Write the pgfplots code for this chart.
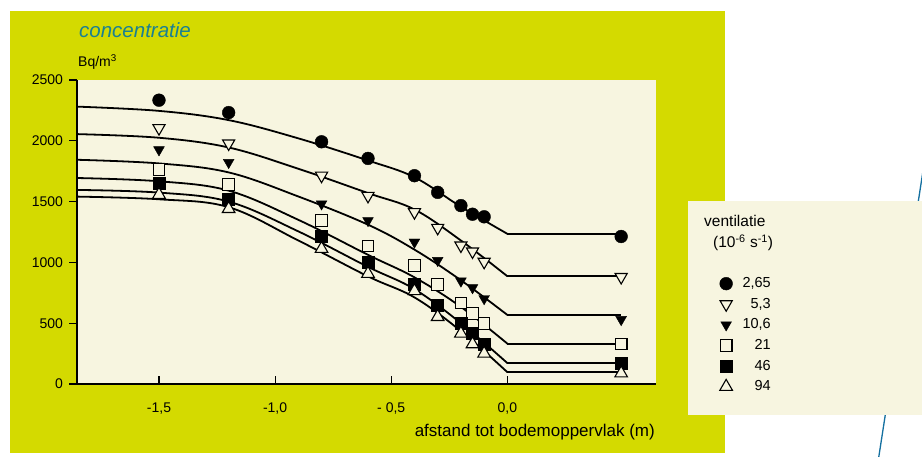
\documentclass[border=0pt]{standalone}
\usepackage{fontspec}
\setmainfont{Liberation Sans}
\usepackage{pgfplots}
\pgfplotsset{compat=1.18}
\definecolor{bggreen}{RGB}{212,218,0}
\definecolor{cream}{RGB}{247,245,224}
\definecolor{titleteal}{RGB}{26,128,146}
\definecolor{lineblue}{RGB}{20,112,160}
\begin{document}
\begin{tikzpicture}[x=1pt,y=1pt]
\useasboundingbox (0,0) rectangle (922,457);
\fill[white] (0,0) rectangle (922,457);
\fill[bggreen] (10,4) rectangle (725,446);
\draw[lineblue, line width=1.3pt] (925,299) -- (878,-5);
\fill[cream] (688,42) rectangle (922,256);
\node[anchor=base west, inner sep=0pt, text=titleteal, font=\fontsize{20.5}{24}\selectfont\itshape] at (79,419.5) {concentratie};
\node[anchor=base west, inner sep=0pt, font=\fontsize{14}{16}\selectfont] at (78,390) {Bq/m\textsuperscript{3}};
\node[anchor=base east, inner sep=0pt, font=\fontsize{17}{20}\selectfont] at (655,20) {afstand tot bodemoppervlak (m)};
\node[anchor=base west, inner sep=0pt, font=\fontsize{15.5}{18}\selectfont] at (704,230.3) {ventilatie};
\node[anchor=base west, inner sep=0pt, font=\fontsize{15.5}{18}\selectfont] at (713,209.5) {(10\textsuperscript{-6} s\textsuperscript{-1})};
\begin{axis}[
  at={(77pt,73pt)}, anchor=south west,
  scale only axis, width=579pt, height=304pt,
  xmin=-1.853, xmax=0.640, ymin=0, ymax=2500,
  axis x line*=bottom, axis y line*=left,
  axis line style={line width=1.8pt},
  axis background/.style={fill=cream},
  tick align=outside, major tick length=7.5pt,
  tick style={line width=1.1pt, black},
  x tick style={yshift=7.5pt},
  xtick={-1.5,-1,-0.5,0},
  xticklabels={{-1,5},{-1,0},{- 0,5},{0,0}},
  ytick={0,500,1000,1500,2000,2500},
  /pgf/number format/.cd, 1000 sep={}, assume math mode=true, /pgfplots/.cd,
  x tick label style={font=\fontsize{14}{16}\selectfont, anchor=base, yshift=-21.5pt},
  y tick label style={font=\fontsize{14}{16}\selectfont, xshift=-3pt},
  legend cell align=right,
  legend style={at={(1.2003,0.357)}, anchor=north east, draw=none, fill=none,
    inner xsep=0pt, inner ysep=0pt, column sep=9pt, row sep=4.6pt,
    font=\fontsize{14.5}{16}\selectfont,
    nodes={text height=11pt, text depth=3pt, inner sep=1pt}},
  legend image code/.code={\draw[#1] plot coordinates {(0pt,0pt)};},
]
% fitted curves
\addplot[black, line width=1.8pt, smooth, tension=0.6, forget plot] coordinates {(-1.853,2281) (-1.5,2246) (-1.2,2170) (-0.9,2020) (-0.6,1838) (-0.4,1700) (-0.2,1458) (0,1235)};
\addplot[black, line width=1.8pt, forget plot] coordinates {(0,1235) (0.49,1235)};
\addplot[black, line width=1.8pt, smooth, tension=0.6, forget plot] coordinates {(-1.853,2055) (-1.5,2025) (-1.2,1945) (-0.9,1770) (-0.6,1570) (-0.4,1435) (-0.2,1180) (0,886)};
\addplot[black, line width=1.8pt, forget plot] coordinates {(0,886) (0.49,886)};
\addplot[black, line width=1.8pt, smooth, tension=0.6, forget plot] coordinates {(-1.853,1844) (-1.5,1814) (-1.2,1740) (-0.9,1542) (-0.6,1310) (-0.4,1105) (-0.2,853) (0,568)};
\addplot[black, line width=1.8pt, forget plot] coordinates {(0,568) (0.49,568)};
\addplot[black, line width=1.8pt, smooth, tension=0.6, forget plot] coordinates {(-1.853,1694) (-1.5,1667) (-1.2,1590) (-0.9,1350) (-0.6,1062) (-0.4,877) (-0.2,634) (0,332)};
\addplot[black, line width=1.8pt, forget plot] coordinates {(0,332) (0.49,332)};
\addplot[black, line width=1.8pt, smooth, tension=0.6, forget plot] coordinates {(-1.853,1596) (-1.5,1574) (-1.2,1500) (-0.9,1255) (-0.6,963) (-0.4,780) (-0.2,500) (0,172)};
\addplot[black, line width=1.8pt, forget plot] coordinates {(0,172) (0.49,172)};
\addplot[black, line width=1.8pt, smooth, tension=0.6, forget plot] coordinates {(-1.853,1541) (-1.5,1519) (-1.2,1454) (-0.9,1180) (-0.6,885) (-0.4,712) (-0.2,435) (0,97)};
\addplot[black, line width=1.8pt, forget plot] coordinates {(0,97) (0.49,97)};
% measurements
\addplot[only marks, mark=*, mark size=6.4pt, mark options={fill=black, draw=black}] coordinates {(-1.5,2334) (-1.2,2232) (-0.8,1992) (-0.6,1855) (-0.4,1713) (-0.3,1576) (-0.2,1467) (-0.15,1396) (-0.1,1375) (0.49,1213)};
\addlegendentry{2,65}
\addplot[only marks, mark=triangle*, mark size=7pt, mark options={rotate=180, fill=cream, draw=black, line width=1.1pt}] coordinates {(-1.5,2104) (-1.2,1978) (-0.8,1713) (-0.6,1547) (-0.4,1413) (-0.3,1284) (-0.2,1139) (-0.15,1090) (-0.1,1005) (0.49,880)};
\addlegendentry{5,3}
\addplot[only marks, mark=triangle*, mark size=6.2pt, mark options={rotate=180, fill=black, draw=black}] coordinates {(-1.5,1926) (-1.2,1822) (-0.8,1481) (-0.6,1344) (-0.4,1167) (-0.3,1016) (-0.2,847) (-0.15,792) (-0.1,702) (0.49,530)};
\addlegendentry{10,6}
\addplot[only marks, mark=square*, mark size=5.8pt, mark options={fill=cream, draw=black, line width=1.1pt}] coordinates {(-1.5,1762) (-1.2,1639) (-0.8,1344) (-0.6,1134) (-0.4,975) (-0.3,817) (-0.2,667) (-0.15,579) (-0.1,497) (0.49,330)};
\addlegendentry{21}
\addplot[only marks, mark=square*, mark size=6pt, mark options={fill=black, draw=black}] coordinates {(-1.5,1650) (-1.2,1522) (-0.8,1216) (-0.6,1003) (-0.4,817) (-0.3,648) (-0.2,497) (-0.15,421) (-0.1,328) (0.49,175)};
\addlegendentry{46}
\addplot[only marks, mark=triangle*, mark size=7.3pt, mark options={fill=cream, draw=black, line width=1.1pt}] coordinates {(-1.5,1557) (-1.2,1440) (-0.8,1112) (-0.6,907) (-0.4,765) (-0.3,552) (-0.2,415) (-0.15,328) (-0.1,251) (0.49,88)};
\addlegendentry{94}
\end{axis}
\end{tikzpicture}
\end{document}
